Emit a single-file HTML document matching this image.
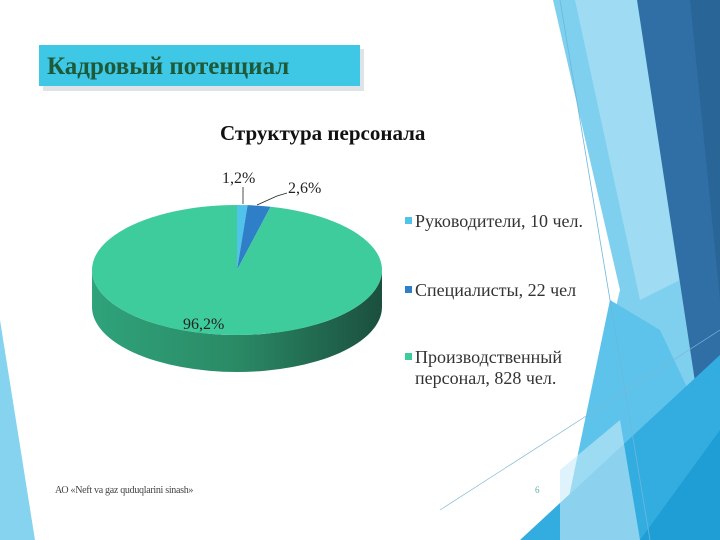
<!DOCTYPE html>
<html><head><meta charset="utf-8"><style>
html,body{margin:0;padding:0;background:#fff}
#slide{position:relative;width:720px;height:540px;overflow:hidden;font-family:"Liberation Serif",serif}
svg{position:absolute;left:0;top:0}
</style></head><body>
<div id="slide">
<svg width="720" height="540">
<polygon points="0,320 35,540 0,540" fill="#86d3ef"/>
<polygon points="553,0 637,0 700,415 655,540 560,540 620,290" fill="#7fcfee"/>
<polygon points="575,0 637,0 680,280 640,300" fill="#9fdcf3"/>
<polygon points="637,0 720,0 720,380 700,415" fill="#2f6fa6"/>
<polygon points="690,0 720,0 720,300" fill="#2a6598"/>
<polygon points="610,300 660,330 700,415 640,540 560,540" fill="#5ec3ea"/>
<polygon points="520,540 720,355 720,540" fill="#33ade0"/>
<polygon points="640,540 720,430 720,540" fill="#1f9ed6"/>
<polygon points="560,470 620,420 640,540 560,540" fill="#c8ebf8" opacity="0.6"/>
<line x1="560" y1="0" x2="650" y2="540" stroke="#6ab8dc" stroke-width="0.8"/>
<line x1="440" y1="510" x2="720" y2="330" stroke="#7fb8d6" stroke-width="0.7"/>
</svg>

<div style="position:absolute;left:43px;top:49px;width:321px;height:42px;background:#dde3e6"></div>
<div style="position:absolute;left:39px;top:45px;width:321px;height:41px;background:#3ec8e6;color:#1d5a3a;font-weight:bold;font-size:25px;line-height:43px;padding-left:8px;box-sizing:border-box">Кадровый потенциал</div>

<div style="position:absolute;left:220px;top:121px;font-weight:bold;font-size:21px;color:#111">Структура персонала</div>

<svg id="pie" width="720" height="540">
<defs>
<linearGradient id="sideg" x1="0" x2="1" y1="0" y2="0">
<stop offset="0" stop-color="#2fa37a"/><stop offset="0.5" stop-color="#2a8a66"/><stop offset="1" stop-color="#1b4f3e"/>
</linearGradient>
</defs>
</svg>

<div style="position:absolute;left:55px;top:485px;font-size:10px;color:#444;letter-spacing:-0.3px">АО «Neft va gaz quduqlarini sinash»</div>
<div style="position:absolute;left:535px;top:485px;font-size:9px;color:#6aa">6</div>
</div>
<script>
const categories=["Руководители, 10 чел.","Специалисты, 22 чел","Производственный|персонал, 828 чел."];
const values=[10,22,828];
const pctLabels=["1,2%","2,6%","96,2%"];
const colors=["#4fc3ea","#2f7fc8","#3fcc9c"];
const sideColors=["#3aa0c8","#245f99","url(#sideg)"];
const NS="http://www.w3.org/2000/svg";
const svg=document.getElementById('pie');
const cx=237,cy=270,rx=145,ry=65,depth=37;
const total=values.reduce((a,b)=>a+b,0);
function pt(a,dy){return [cx+rx*Math.sin(a),cy-ry*Math.cos(a)+(dy||0)];}
function mk(tag,attrs){const e=document.createElementNS(NS,tag);for(const k in attrs)e.setAttribute(k,attrs[k]);svg.appendChild(e);return e;}
let start=0;const angles=[];
values.forEach(v=>{const end=start+v/total*2*Math.PI;angles.push([start,end]);start=end;});
angles.forEach(([a0,a1],i)=>{
  const s=Math.max(a0,Math.PI/2),e=Math.min(a1,3*Math.PI/2);
  if(e<=s)return;
  const p0=pt(s),p1=pt(e),q1=pt(e,depth),q0=pt(s,depth);
  const d=`M${p0} A${rx},${ry} 0 ${e-s>Math.PI?1:0} 1 ${p1} L${q1} A${rx},${ry} 0 ${e-s>Math.PI?1:0} 0 ${q0} Z`;
  const p=mk('path',{d:d,fill:sideColors[i]});
  
  
});
angles.forEach(([a0,a1],i)=>{
  const p0=pt(a0),p1=pt(a1);
  const d=`M${cx},${cy} L${p0} A${rx},${ry} 0 ${a1-a0>Math.PI?1:0} 1 ${p1} Z`;
  const p=mk('path',{d:d,fill:colors[i]});
  
  
});
const l0=mk('line',{x1:243,y1:204,x2:243,y2:187,stroke:'#222','stroke-width':0.8});

const l1=mk('polyline',{points:'257,205 277,196 287,193',fill:'none',stroke:'#222','stroke-width':0.8});

const lp=[[222,183],[288,193],[183,329]];
pctLabels.forEach((t,i)=>{
  const e=mk('text',{x:lp[i][0],y:lp[i][1],'font-size':16,fill:'#222','font-family':'Liberation Serif, serif'});
  e.textContent=t;
  
  
});
const ly=[227,296,363];
categories.forEach((c,i)=>{
  const r=mk('rect',{x:405,y:ly[i]-10,width:7,height:7,fill:colors[i]});
  
  
  c.split('|').forEach((line,j)=>{
    const t=mk('text',{x:415,y:ly[i]+j*21,'font-size':18,fill:'#333','font-family':'Liberation Serif, serif'});
    t.textContent=line;
    
    
  });
});
</script>
</body></html>
